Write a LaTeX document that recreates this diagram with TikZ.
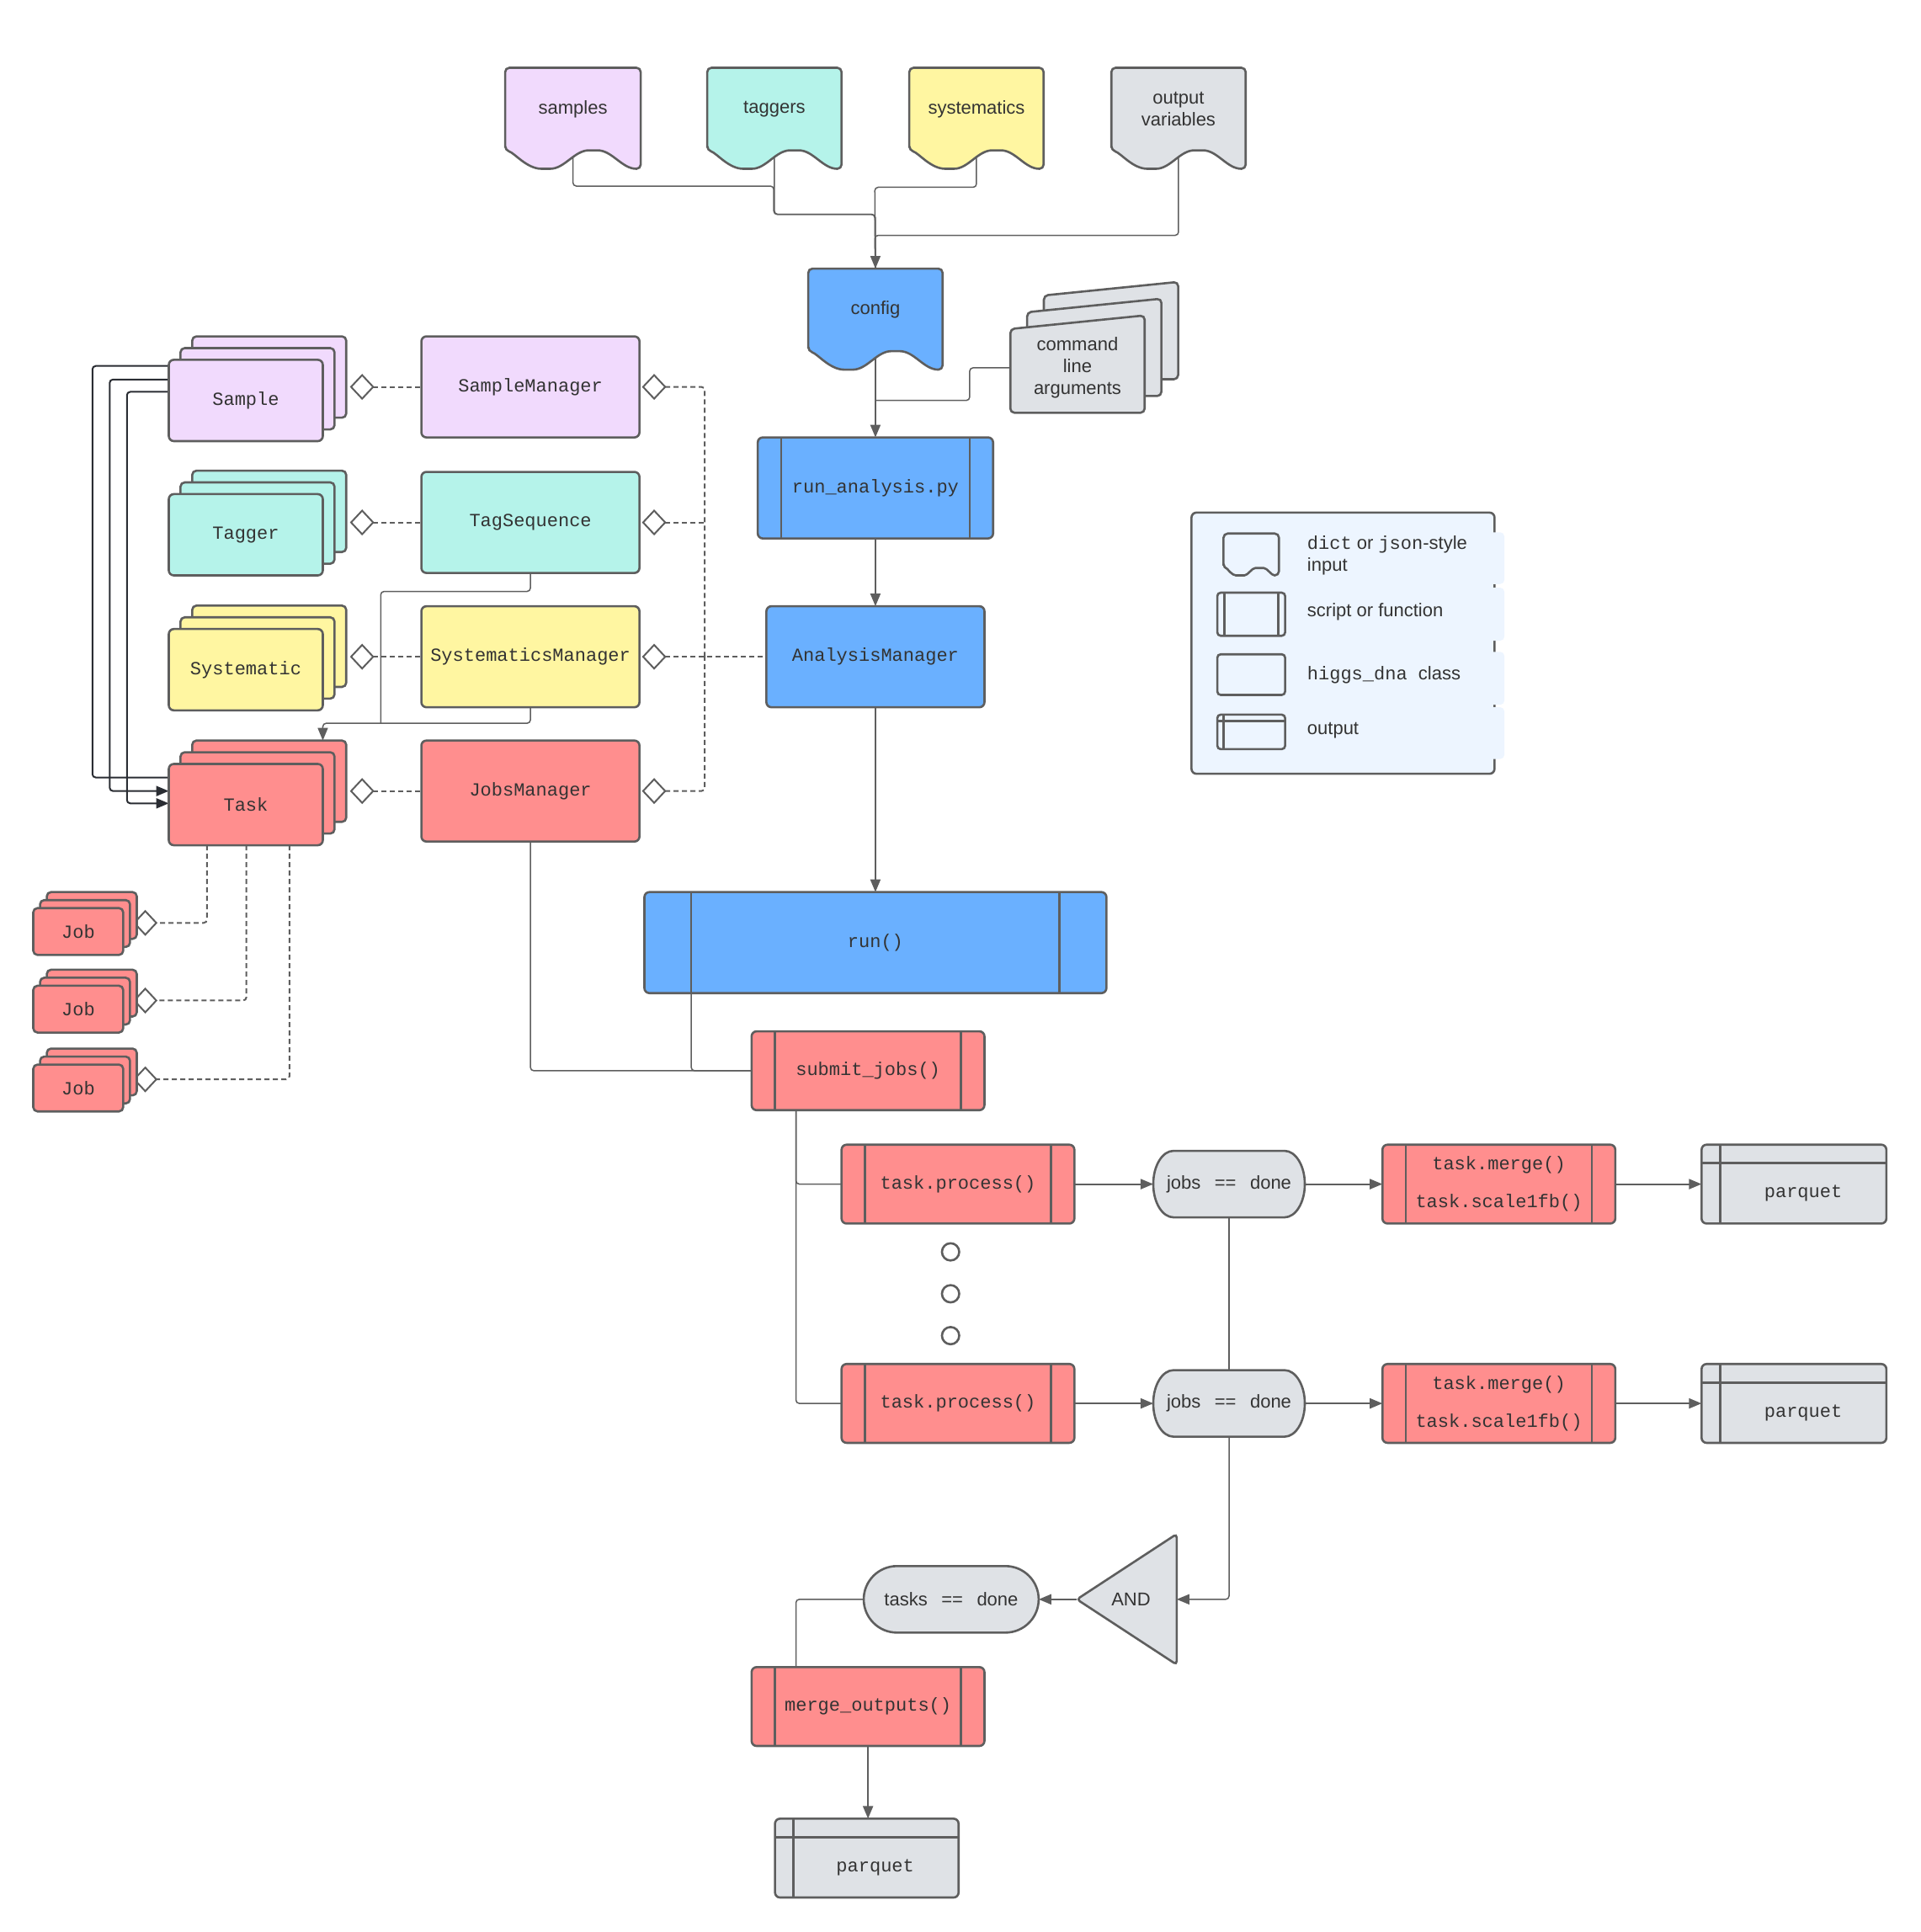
\documentclass[tikz,border=0pt]{standalone}
\usepackage{fontspec}
\setmainfont{Liberation Sans}
\newfontfamily\monof{Liberation Mono}
\usetikzlibrary{arrows.meta,calc}
\definecolor{lc}{HTML}{5E5E5E}
\definecolor{txt}{HTML}{333333}
\definecolor{lav}{HTML}{F1DAFD}
\definecolor{mint}{HTML}{B5F3EA}
\definecolor{yel}{HTML}{FFF6A1}
\definecolor{gry}{HTML}{DFE2E6}
\definecolor{blu}{HTML}{6AB0FF}
\definecolor{rd}{HTML}{FF8E8E}
\definecolor{legbg}{HTML}{EDF5FF}
\definecolor{dk}{HTML}{2A2D33}
\pgfdeclarelayer{connl}
\pgfdeclarelayer{backl}
\pgfsetlayers{connl,backl,main}
\def\pxu{1.4638pt}
\newcommand\bigf{\fontsize{22}{26}\selectfont}
\newcommand\mono[1]{{\monof #1}}
% document shape below a node (node = upper rectangle), #3 = wave depth in px
\newcommand\docshape[3]{%
 \path[bd, fill=#2, rounded corners=5pt] let \p1=(#1.north west), \p2=(#1.south east),
   \n1={\x2-\x1}, \n2={#3*1.4638pt} in
  (\x1,\y2) -- (\x1,\y1) -- (\x2,\y1) -- (\x2,{\y2-\n2})
  .. controls ({\x1+0.86*\n1},{\y2-\n2}) and ({\x1+0.79*\n1},{\y2}) .. ({\x1+0.65*\n1},{\y2})
  .. controls ({\x1+0.51*\n1},{\y2}) and ({\x1+0.44*\n1},{\y2-\n2}) .. ({\x1+0.3*\n1},{\y2-\n2})
  .. controls ({\x1+0.16*\n1},{\y2-\n2}) and ({\x1+0.07*\n1},{\y2-0.15*\n2}) .. (\x1,\y2) -- cycle;}
% pill with elliptic ends, #3 = bulge in px
\newcommand\stadshape[3]{%
 \path[bd, fill=#2] let \p1=(#1.north west), \p2=(#1.south east),
   \n1={(\y1-\y2)/2}, \n2={#3*1.4638pt} in
  ({\x1+\n2},\y1) -- ({\x2-\n2},\y1) arc[start angle=90, end angle=-90, x radius=\n2*1pt, y radius=\n1*1pt]
  -- ({\x1+\n2},\y2) arc[start angle=270, end angle=90, x radius=\n2*1pt, y radius=\n1*1pt] -- cycle;}
% slanted card, shifted right #2 px and up #3 px
\newcommand\slantcard[4]{%
 \path[bd, fill=#4, rounded corners=5pt] let \p1=(#1.north west), \p2=(#1.south east),
   \n1={#2*1.4638pt}, \n2={#3*1.4638pt} in
  ({\x1+\n1},{\y2+\n2}) -- ({\x1+\n1},{\y1-5*1.4638pt+\n2}) -- ({\x2+\n1},{\y1+6*1.4638pt+\n2})
  -- ({\x2+\n1},{\y2+\n2}) -- cycle;}
% two cards behind a node
\newcommand\stackbacks[4]{%
 \path[bd, fill=#4, rounded corners=5pt] ([shift={(2*#2,-2*#3)}]#1.south west) rectangle ([shift={(2*#2,-2*#3)}]#1.north east);
 \path[bd, fill=#4, rounded corners=5pt] ([shift={(#2,-#3)}]#1.south west) rectangle ([shift={(#2,-#3)}]#1.north east);}
\newcommand\scriptlines[2]{%
 \draw[bd] ([xshift=#2*\pxu]#1.north west) -- ([xshift=#2*\pxu]#1.south west);
 \draw[bd] ([xshift=-#2*\pxu]#1.north east) -- ([xshift=-#2*\pxu]#1.south east);}
\newcommand\outlines[2]{%
 \draw[bd] ([yshift=-#2*\pxu]#1.north west) -- ([yshift=-#2*\pxu]#1.north east);
 \draw[bd] ([xshift=#2*\pxu]#1.north west) -- ([xshift=#2*\pxu]#1.south west);}
\begin{document}
\begin{tikzpicture}[x=1.4638pt, y=-1.4638pt,
  every node/.style={inner sep=0pt, outer sep=0pt, text=txt, font=\bigf},
  sz/.style 2 args={minimum width=#1*\pxu, minimum height=#2*\pxu},
  bd/.style={draw=lc, line width=2.6pt},
  box/.style={bd, rounded corners=6pt},
  mf/.style={font=\bigf\monof},
  conn/.style={draw=lc, line width=2pt, rounded corners=4pt},
  thinc/.style={draw=lc, line width=1.5pt, rounded corners=4pt},
  arr/.style={-{Triangle[length=15pt,width=12pt]}},
  dconn/.style={conn, dash pattern=on 6pt off 4pt},
  aggs/.style={{Diamond[length=29pt,width=31pt,fill=white]}-},
  agge/.style={-{Diamond[length=29pt,width=31pt,fill=white]}},
  dkc/.style={draw=dk, line width=2pt, rounded corners=4pt},
  outp/.style={box, fill=gry, mf, text height=37pt, text depth=5pt}
]
\useasboundingbox (0,0) rectangle (1559,1568);

% ---------- inputs ----------
\node[sz={110}{67}] (samples) at (465,88.5) {samples};
\node[sz={109}{67}] (taggers) at (628.5,88.5) {taggers};
\node[sz={109}{67}] (systs) at (792.5,88.5) {systematics};
\node[sz={109}{67}, align=center] (outvars) at (956.5,88.5) {output\\variables};
\node[sz={109}{67}] (config) at (710.5,251.5) {config};
\node[sz={109}{73}, align=center] (clargs) at (874.5,298.5) {command\\line\\arguments};

% ---------- main flow ----------
\node[box, fill=blu, mf, sz={191}{82}] (runpy) at (710.5,396) {run\_analysis.py};
\node[box, fill=blu, mf, sz={177}{82}] (am) at (710.5,533) {AnalysisManager};
\node[box, fill=blu, mf, sz={375}{82}] (run) at (710.5,765) {run()};
\node[box, fill=rd, mf, sz={189}{64}] (submit) at (704.5,869) {submit\_jobs()};
\node[box, fill=rd, mf, sz={189}{64}] (tp1) at (777.5,961) {task.process()};
\node[box, fill=rd, mf, sz={189}{64}] (tp2) at (777.5,1139) {task.process()};
\node[sz={123}{54}] (jd1) at (997.5,961) {jobs\hspace{0.75em}==\hspace{0.75em}done};
\node[sz={123}{54}] (jd2) at (997.5,1139) {jobs\hspace{0.75em}==\hspace{0.75em}done};
\node[box, fill=rd, mf, sz={189}{64}, align=center] (tm1) at (1216.5,961) {task.merge()\\[19pt]task.scale1fb()};
\node[box, fill=rd, mf, sz={189}{64}, align=center] (tm2) at (1216.5,1139) {task.merge()\\[19pt]task.scale1fb()};
\node[outp, sz={150}{64}] (pq1) at (1456,961) {\hspace*{22pt}parquet};
\node[outp, sz={150}{64}] (pq2) at (1456,1139) {\hspace*{22pt}parquet};
\node[circle, bd, fill=white, minimum size=14*\pxu] (dot1) at (771.5,1016) {};
\node[circle, bd, fill=white, minimum size=14*\pxu] (dot2) at (771.5,1050) {};
\node[circle, bd, fill=white, minimum size=14*\pxu] (dot3) at (771.5,1084) {};
\node[sz={81}{106}] (and) at (914.5,1298) {\hspace*{10pt}AND};
\node[sz={142}{54}] (tasks) at (772,1298) {tasks\hspace{0.75em}==\hspace{0.75em}done};
\node[box, fill=rd, mf, sz={189}{64}] (merge) at (704.5,1385) {merge\_outputs()};
\node[outp, sz={149}{64}] (pq3) at (703.5,1508) {\hspace*{20pt}parquet};

% ---------- classes ----------
\node[box, fill=lav, mf, sz={177}{82}] (sm) at (430.5,314) {SampleManager};
\node[box, fill=mint, mf, sz={177}{82}] (ts) at (430.5,424) {TagSequence};
\node[box, fill=yel, mf, sz={177}{82}] (sy) at (430.5,533) {SystematicsManager};
\node[box, fill=rd, mf, sz={177}{82}] (jm) at (430.5,642) {JobsManager};
\node[box, fill=lav, mf, sz={125}{66}] (sample) at (199.5,325) {Sample};
\node[box, fill=mint, mf, sz={125}{66}] (tagger) at (199.5,434) {Tagger};
\node[box, fill=yel, mf, sz={125}{66}] (syst) at (199.5,543.5) {Systematic};
\node[box, fill=rd, mf, sz={125}{66}] (task) at (199.5,653) {Task};
\node[box, rounded corners=5pt, fill=rd, mf, sz={73}{38}] (job1) at (63.5,756) {Job};
\node[box, rounded corners=5pt, fill=rd, mf, sz={73}{38}] (job2) at (63.5,819) {Job};
\node[box, rounded corners=5pt, fill=rd, mf, sz={73}{38}] (job3) at (63.5,883) {Job};

\scriptlines{runpy}{19}
\scriptlines{run}{38}
\scriptlines{submit}{19}
\scriptlines{tp1}{19}
\scriptlines{tp2}{19}
\scriptlines{tm1}{19}
\scriptlines{tm2}{19}
\scriptlines{merge}{19}
\outlines{pq1}{15}
\outlines{pq2}{15}
\outlines{pq3}{15}

% ---------- legend ----------
\node[box, fill=legbg, sz={246}{212}] (legend) at (1090,522) {};
\fill[legbg, rounded corners=5pt] (1150,432) rectangle (1221,474);
\fill[legbg, rounded corners=5pt] (1150,477) rectangle (1221,520);
\fill[legbg, rounded corners=5pt] (1150,529) rectangle (1221,572);
\fill[legbg, rounded corners=5pt] (1150,574) rectangle (1221,616);
\node[sz={45}{28}] (ldoc) at (1015.5,447) {};
\docshape{ldoc}{legbg}{6}
\node[box, rounded corners=4pt, fill=legbg, sz={55}{35}] (lscript) at (1015.5,498.5) {};
\scriptlines{lscript}{5.6}
\node[box, rounded corners=4pt, fill=legbg, sz={55}{33}] (lclass) at (1015.5,547.5) {};
\node[box, rounded corners=4pt, fill=legbg, sz={55}{28}] (lout) at (1015.5,594) {};
\outlines{lout}{5}
\node[anchor=west, align=left] (lt1) at (1061,451) {\mono{dict} or \mono{json}-style\\input};
\node[anchor=west] (lt2) at (1061,496.5) {script or function};
\node[anchor=west] (lt3) at (1061,548) {\mono{higgs\_dna\ }class};
\node[anchor=west] (lt4) at (1061,593) {output};

% ---------- shapes behind nodes ----------
\begin{pgfonlayer}{backl}
 \docshape{samples}{lav}{15}
 \docshape{taggers}{mint}{15}
 \docshape{systs}{yel}{15}
 \docshape{outvars}{gry}{15}
 \docshape{config}{blu}{15}
 \slantcard{clargs}{27.2}{27.2}{gry}
 \slantcard{clargs}{13.6}{13.6}{gry}
 \slantcard{clargs}{0}{0}{gry}
 \stadshape{jd1}{gry}{16.5}
 \stadshape{jd2}{gry}{16.5}
 \stadshape{tasks}{gry}{27}
 \path[bd, fill=gry, rounded corners=4pt] (and.west) -- (and.north east) -- (and.south east) -- cycle;
 \stackbacks{sample}{9.5}{9.5}{lav}
 \stackbacks{tagger}{9.5}{9.5}{mint}
 \stackbacks{syst}{9.5}{9.5}{yel}
 \stackbacks{task}{9.5}{9.5}{rd}
 \stackbacks{job1}{5.5}{6.5}{rd}
 \stackbacks{job2}{5.5}{6.5}{rd}
 \stackbacks{job3}{5.5}{6.5}{rd}
\end{pgfonlayer}

% ---------- connectors ----------
\begin{pgfonlayer}{connl}
 \draw[thinc, arr] (samples.center) |- (628,151) -- (628,174) -| (config.north);
 \draw[thinc] (taggers.center) |- (710,174) -- (config.north);
 \draw[thinc] (systs.center) |- (710,152) -- (config.north);
 \draw[thinc] (outvars.center) |- (710,191) -- (config.north);
 \coordinate (cj) at (710,325);
 \draw[thinc] (clargs.west) -| (787,325) -- (cj);
 \draw[conn, arr] (config.center) -- (runpy.north);
 \draw[conn, arr] (runpy.south) -- (am.north);
 \draw[conn, arr] (am.south) -- (run.north);
 \draw[thinc] ([xshift=38*\pxu]run.south west) |- (submit.west);
 \draw[thinc] (jm.south) |- (submit.west);
 \draw[thinc] ([xshift=36*\pxu]submit.south west) |- (tp1.west);
 \draw[thinc] ([xshift=36*\pxu]submit.south west) |- (tp2.west);
 \draw[conn, arr] (tp1.east) -- (jd1.west);
 \draw[conn, arr] (jd1.east) -- (tm1.west);
 \draw[conn, arr] (tm1.east) -- (pq1.west);
 \draw[conn, arr] (tp2.east) -- (jd2.west);
 \draw[conn, arr] (jd2.east) -- (tm2.west);
 \draw[conn, arr] (tm2.east) -- (pq2.west);
 \draw[thinc] (jd1.south) -- (jd2.north);
 \draw[thinc, arr] (jd2.south) |- (and.east);
 \draw[conn, arr] (and.west) -- (tasks.east);
 \draw[thinc] (tasks.west) -| ([xshift=36*\pxu]merge.north west);
 \draw[conn, arr] (merge.south) -- (merge.south |- pq3.north);
 % sample -> task
 \draw[dkc] ([yshift=-5*\pxu]sample.north west) -- ++(-62,0) |- ([yshift=-11*\pxu]task.north west);
 \draw[dkc, arr] ([yshift=-16*\pxu]sample.north west) -- ++(-48,0) |- ([yshift=-22*\pxu]task.north west);
 \draw[dkc, arr] ([yshift=-26*\pxu]sample.north west) -- ++(-34,0) |- ([yshift=-32*\pxu]task.north west);
 % managers -> task
 \coordinate (tsj) at (309,587);
 \coordinate (tkb) at ([yshift=19*\pxu]task.north east);
 \draw[thinc] (ts.south) -- ++(0,15) -| (tsj);
 \draw[thinc, arr] (sy.south) -- ++(0,13) -| (tkb);
 % aggregation, left
 \coordinate (sampleR) at ([xshift=22*\pxu]sample.east);
 \coordinate (taggerR) at ([xshift=22*\pxu]tagger.east);
 \coordinate (systR) at ([xshift=22*\pxu]syst.east);
 \coordinate (taskR) at ([xshift=22*\pxu]task.east);
 \draw[dconn, aggs] (sampleR |- sm.west) -- (sm.west);
 \draw[dconn, aggs] (taggerR |- ts.west) -- (ts.west);
 \draw[dconn, aggs] (systR |- sy.west) -- (sy.west);
 \draw[dconn, aggs] (taskR |- jm.west) -- (jm.west);
 % aggregation, right
 \coordinate (bus) at (572,533);
 \draw[dconn, aggs] ([xshift=2*\pxu]sm.east) -| (bus);
 \draw[dconn, aggs] ([xshift=2*\pxu]ts.east) -- (ts.east -| bus);
 \draw[dconn, aggs] ([xshift=2*\pxu]sy.east) -- (am.west);
 \draw[dconn, aggs] ([xshift=2*\pxu]jm.east) -| (bus);
 % jobs
 \coordinate (j1d) at ([shift={(8,-7)}]job1.east);
 \coordinate (j2d) at ([shift={(8,-7)}]job2.east);
 \coordinate (j3d) at ([shift={(8,-7)}]job3.east);
 \draw[dconn, agge] ([xshift=31*\pxu]task.south west) |- (j1d);
 \draw[dconn, agge] ([xshift=63*\pxu]task.south west) |- (j2d);
 \draw[dconn, agge] ([xshift=98*\pxu]task.south west) |- (j3d);
\end{pgfonlayer}
\end{tikzpicture}
\end{document}
